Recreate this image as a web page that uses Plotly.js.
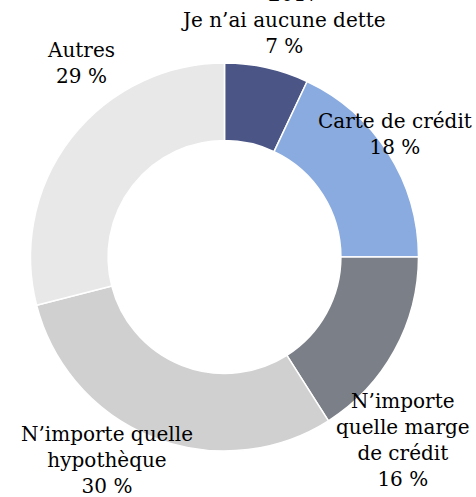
<!DOCTYPE html>
<html>
<head>
<meta charset="utf-8">
<script src="https://cdn.plot.ly/plotly-3.0.1.min.js"></script>
<style>html,body{margin:0;padding:0;background:#fff;}#chart{width:476px;height:497px;}</style>
</head>
<body>
<div id="chart"></div>
<script>
// Data
const titleText = "2017";
const categories = ["Je n’ai aucune dette", "Carte de crédit", "N’importe quelle marge de crédit", "N’importe quelle hypothèque", "Autres"];
const labelLines = ["Je n’ai aucune dette", "Carte de crédit", "N’importe<br>quelle marge<br>de crédit", "N’importe quelle<br>hypothèque", "Autres"];
const values = [7, 18, 16, 30, 29];
const colors = ["#4b5686", "#8aabdf", "#7b7f88", "#d0d0d0", "#e8e8e8"];

// label anchor positions in pixels (layout only)
const labelPx = [[283, 33], [395, 134], [403, 440], [107, 460], [81, 63]];

const W = 476, H = 497;
const FONT = "DejaVu Serif";
const annotations = categories.map((c, i) => ({
  text: labelLines[i] + "<br>" + values[i] + " %",
  x: labelPx[i][0] / W, y: 1 - labelPx[i][1] / H,
  xref: "paper", yref: "paper", xanchor: "center", yanchor: "middle",
  showarrow: false, align: "center",
  font: {family: FONT, size: 20, color: "#000"}
}));
annotations.push({
  text: titleText, x: 293 / W, y: 1 + 6 / H, xref: "paper", yref: "paper",
  xanchor: "center", yanchor: "middle", showarrow: false,
  font: {family: FONT, size: 20, color: "#000"}
});

const trace = {
  type: "pie",
  labels: categories,
  values: values,
  sort: false,
  direction: "clockwise",
  rotation: 0,
  hole: 0.6,
  textinfo: "none",
  hoverinfo: "label+percent",
  marker: {colors: colors, line: {color: "#ffffff", width: 1.5}},
  domain: {x: [30.5 / W, 418.5 / W], y: [1 - 451 / H, 1 - 63 / H]},
  showlegend: false
};

Plotly.newPlot("chart", [trace], {
  width: W, height: H,
  margin: {l: 0, r: 0, t: 0, b: 0},
  paper_bgcolor: "#fff",
  showlegend: false,
  annotations: annotations,
  font: {family: FONT}
}, {displayModeBar: false, staticPlot: true});
</script>
</body>
</html>
